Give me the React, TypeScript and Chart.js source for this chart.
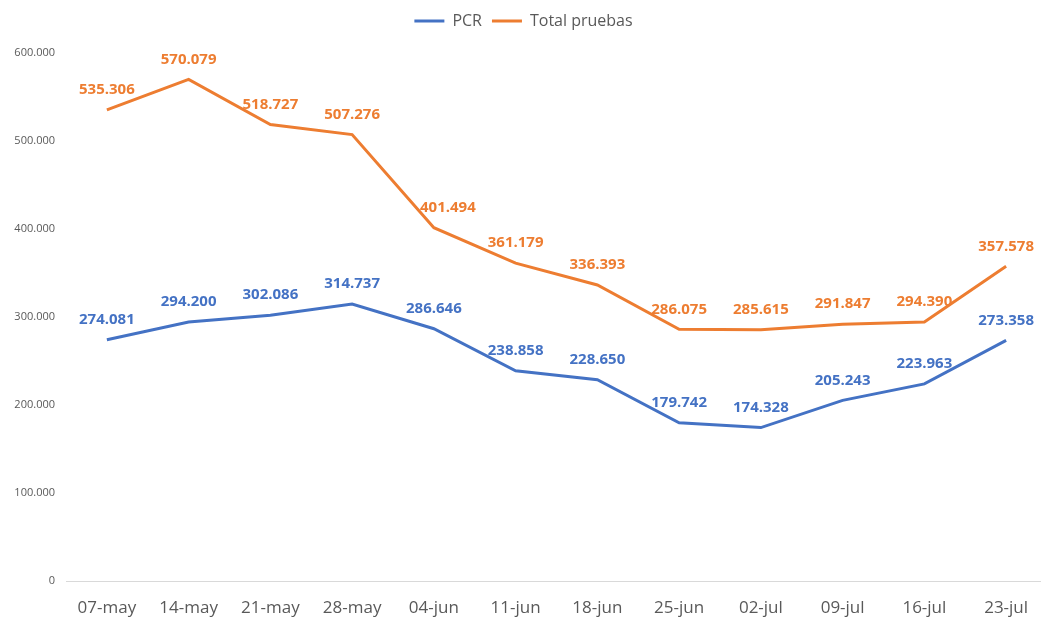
import React, { useEffect, useRef } from "react";
import { Chart, registerables } from "chart.js";

Chart.register(...registerables);

const categories = ["07-may", "14-may", "21-may", "28-may", "04-jun", "11-jun", "18-jun", "25-jun", "02-jul", "09-jul", "16-jul", "23-jul"];
const pcr = [274081, 294200, 302086, 314737, 286646, 238858, 228650, 179742, 174328, 205243, 223963, 273358];
const totalPruebas = [535306, 570079, 518727, 507276, 401494, 361179, 336393, 286075, 285615, 291847, 294390, 357578];

const BLUE = "#4472C4";
const ORANGE = "#ED7D31";
const FONT = "'Open Sans', 'Noto Sans', sans-serif";

const fmt = (v: number) => String(Math.round(v)).replace(/\B(?=(\d{3})+(?!\d))/g, ".");

const layoutPlugin = {
  id: "legendSpace",
  beforeInit(chart: any) {
    const lg = chart.legend;
    if (lg && !lg.__patched) {
      const orig = lg.fit;
      lg.fit = function () {
        orig.call(this);
        this.height += 14;
      };
      lg.__patched = true;
    }
  },
};

const labelPlugin = {
  id: "dataLabels",
  afterDatasetsDraw(chart: any) {
    const ctx = chart.ctx;
    ctx.save();
    ctx.font = `bold 15px ${FONT}`;
    ctx.textAlign = "center";
    ctx.textBaseline = "middle";
    chart.data.datasets.forEach((ds: any, di: number) => {
      const meta = chart.getDatasetMeta(di);
      ctx.fillStyle = ds.borderColor;
      meta.data.forEach((pt: any, i: number) => {
        const dx = di === 1 && i === 4 ? 14 : 0;
        ctx.fillText(fmt(ds.data[i]), pt.x + dx, pt.y - 20);
      });
    });
    ctx.restore();
  },
};

export default function App() {
  const ref = useRef<HTMLCanvasElement>(null);
  useEffect(() => {
    if (!ref.current) return;
    const chart = new Chart(ref.current, {
      type: "line",
      data: {
        labels: categories,
        datasets: [
          { label: "PCR", data: pcr, borderColor: BLUE, backgroundColor: BLUE, borderWidth: 3, pointRadius: 0, tension: 0 },
          { label: "Total pruebas", data: totalPruebas, borderColor: ORANGE, backgroundColor: ORANGE, borderWidth: 3, pointRadius: 0, tension: 0 },
        ],
      },
      options: {
        responsive: false,
        animation: false,
        layout: { padding: { top: 3, left: 0, right: 0, bottom: 0 } },
        plugins: {
          legend: {
            position: "top",
            labels: {
              usePointStyle: true,
              pointStyle: "line",
              pointStyleWidth: 30,
              boxHeight: 3,
              color: "#595959",
              font: { family: FONT, size: 16 },
              padding: 10,
            },
          },
          tooltip: { enabled: false },
        },
        scales: {
          x: {
            offset: true,
            grid: { display: false, drawTicks: false },
            border: { display: true, color: "#d9d9d9", width: 1 },
            ticks: { color: "#595959", font: { family: FONT, size: 17 }, padding: 17, maxRotation: 0, autoSkip: false },
            afterFit(scale: any) { scale.height = 38; },
          },
          y: {
            min: 0,
            max: 600000,
            grid: { display: false, drawTicks: false },
            border: { display: false },
            ticks: {
              stepSize: 100000,
              color: "#595959",
              font: { family: FONT, size: 11 },
              padding: 11,
              callback: (v: any) => fmt(Number(v)),
            },
            afterFit(scale: any) { scale.width = 66; },
          },
        },
      },
      plugins: [layoutPlugin, labelPlugin],
    } as any);
    return () => chart.destroy();
  }, []);
  return (
    <div style={{ position: "absolute", left: 0, top: 0, width: 1041, height: 619, overflow: "hidden", background: "#fff" }}>
      <canvas ref={ref} width={1047} height={619} />
    </div>
  );
}
